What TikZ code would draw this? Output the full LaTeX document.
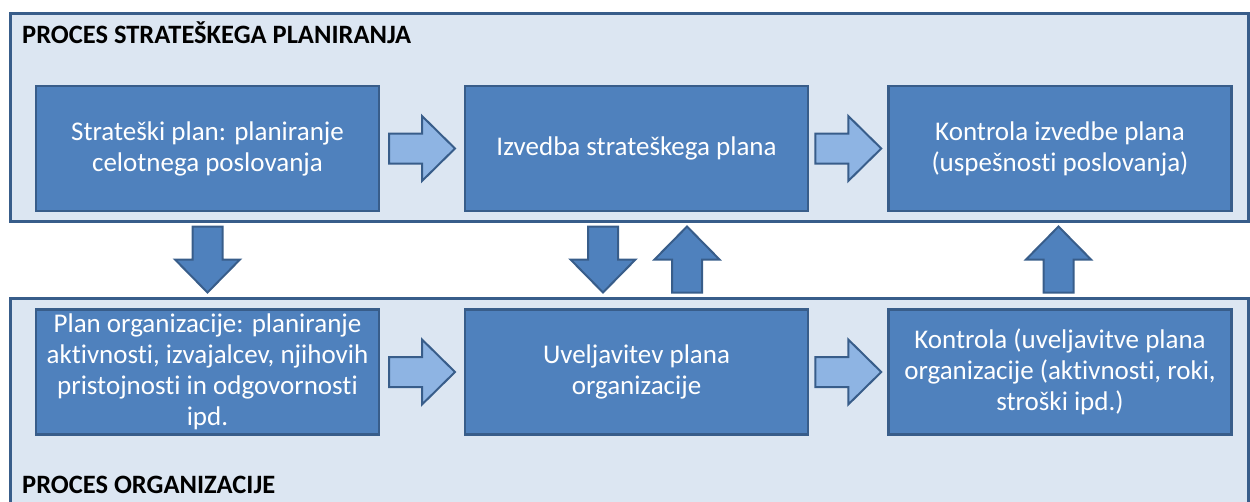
\documentclass[tikz,border=0pt]{standalone}
\usepackage{fontspec}
\setmainfont{Carlito}[Ligatures=NoCommon]
\usetikzlibrary{calc}

\definecolor{framefill}{HTML}{DCE6F2}
\definecolor{edgeblue}{HTML}{385D8A}
\definecolor{boxblue}{HTML}{4F81BD}
\definecolor{lightblue}{HTML}{8EB4E3}

\tikzset{
  processframe/.style={draw=edgeblue, line width=3pt, fill=framefill, rectangle,
    minimum width=1238pt, inner sep=0pt},
  stepbox/.style={draw=edgeblue, line width=2.5pt, fill=boxblue, rectangle,
    minimum width=343pt, minimum height=125pt, inner sep=2pt, align=center,
    text=white, font=\fontsize{27}{31}\selectfont},
  framelabel/.style={anchor=base west, inner sep=0pt, font=\fontsize{26.5}{30}\selectfont\bfseries},
  flowarrow/.pic={
    \path[pic actions] (-33,-15) -- (0,-15) -- (0,-32.5) -- (33,0)
      -- (0,32.5) -- (0,15) -- (-33,15) -- cycle;
  },
  hflow/.style={fill=lightblue, draw=edgeblue, line width=2pt, line join=miter},
  vflow/.style={fill=boxblue, draw=edgeblue, line width=2pt, line join=miter},
}

\begin{document}
\begin{tikzpicture}[x=1pt, y=-1pt]
  \useasboundingbox (0,0) rectangle (1250,501);
  \clip (0,0) rectangle (1250,501);

  % process frames
  \node[processframe, minimum height=208pt] (topframe) at (629,117) {};
  \node[processframe, minimum height=222pt] (botframe) at (629,409) {};

  \node[framelabel] (toplabel) at (22,43.5) {PROCES STRATEŠKEGA PLANIRANJA};
  \node[framelabel] (botlabel) at (22,493) {PROCES ORGANIZACIJE};

  % strategic planning steps
  \node[stepbox] (b1) at (207.5,148.5) {Strateški plan: planiranje\\celotnega poslovanja};
  \node[stepbox] (b2) at (636.5,148.5) {Izvedba strateškega plana};
  \node[stepbox] (b3) at (1060,148.5) {Kontrola izvedbe plana\\(uspešnosti poslovanja)};

  % organisation steps
  \node[stepbox] (b4) at (207.5,372)
    {Plan organizacije: planiranje\\aktivnosti, izvajalcev, njihovih\\pristojnosti in odgovornosti\\ipd.};
  \node[stepbox] (b5) at (636.5,372) {Uveljavitev plana\\organizacije};
  \node[stepbox] (b6) at (1060,372)
    {Kontrola (uveljavitve plana\\organizacije (aktivnosti, roki,\\stroški ipd.)};

  % horizontal flow
  \pic[hflow] at ($(b1.east)!0.5!(b2.west)$) {flowarrow};
  \pic[hflow] at ($(b2.east)!0.5!(b3.west)$) {flowarrow};
  \pic[hflow] at ($(b4.east)!0.5!(b5.west)$) {flowarrow};
  \pic[hflow] at ($(b5.east)!0.5!(b6.west)$) {flowarrow};

  % vertical flow between the two processes
  \coordinate (m1) at ($(topframe.south -| b1)!0.5!(botframe.north -| b1)$);
  \coordinate (m2) at ($(topframe.south -| b2)!0.5!(botframe.north -| b2)$);
  \coordinate (m3) at ($(topframe.south -| b3)!0.5!(botframe.north -| b3)$);
  \pic[vflow, rotate=-90] at (m1) {flowarrow};
  \pic[vflow, rotate=-90] at ([xshift=-33.5pt]m2) {flowarrow};
  \pic[vflow, rotate=90] at ([xshift=50.5pt]m2) {flowarrow};
  \pic[vflow, rotate=90] at ([xshift=-1.5pt]m3) {flowarrow};
\end{tikzpicture}
\end{document}
